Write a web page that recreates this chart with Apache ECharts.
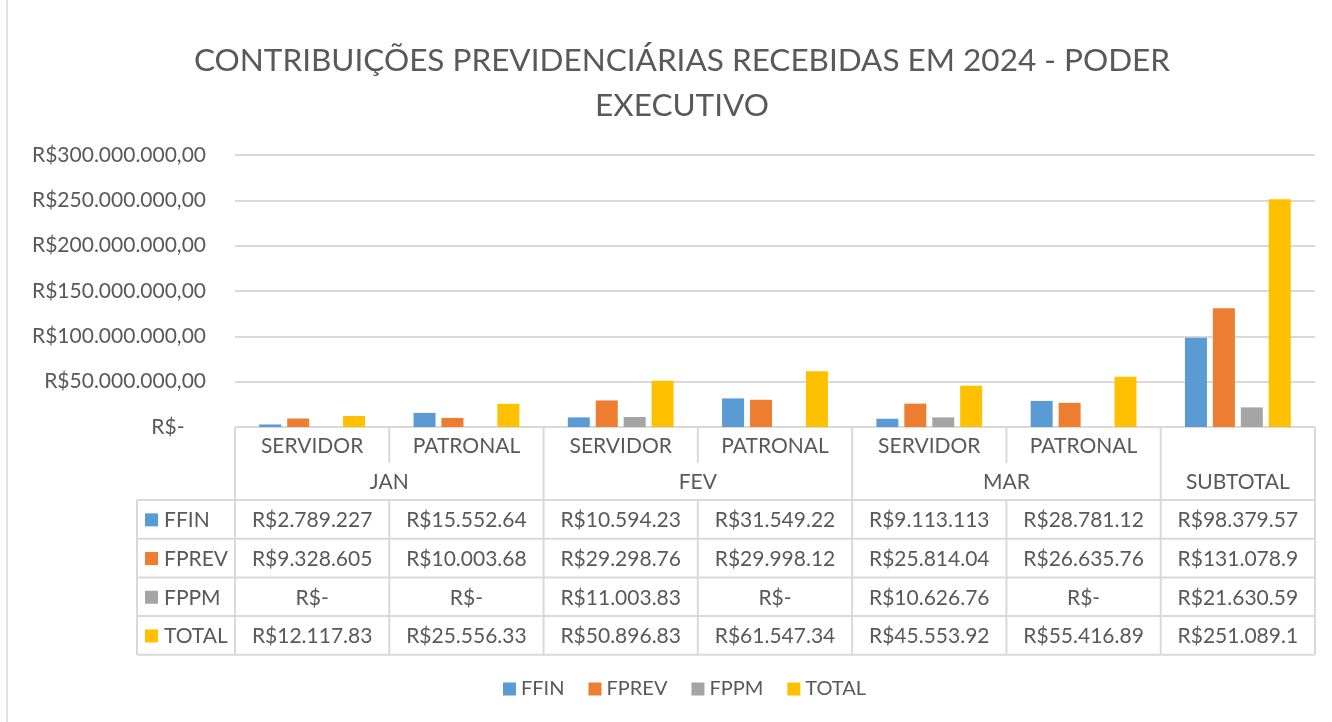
<!DOCTYPE html>
<html>
<head>
<meta charset="utf-8">
<script src="https://cdn.jsdelivr.net/npm/echarts@6/dist/echarts.min.js"></script>
<style>
  html, body { margin: 0; padding: 0; background: #fff; }
  #main { width: 1332px; height: 722px; }
</style>
</head>
<body>
<div id="main"></div>
<script>
  // dados
  var categorias = ['SERVIDOR', 'PATRONAL', 'SERVIDOR', 'PATRONAL', 'SERVIDOR', 'PATRONAL', '']
  var meses = [
    {nome: 'JAN', inicio: 0, fim: 1},
    {nome: 'FEV', inicio: 2, fim: 3},
    {nome: 'MAR', inicio: 4, fim: 5},
    {nome: 'SUBTOTAL', inicio: 6, fim: 6}
  ]
  var ffin = [2789227, 15552640, 10594230, 31549220, 9113113, 28781120, 98379570]
  var fprev = [9328605, 10003680, 29298760, 29998120, 25814040, 26635760, 131078900]
  var fppm = [0, 0, 11003830, 0, 10626760, 0, 21630590]
  var total = [12117830, 25556330, 50896830, 61547340, 45553920, 55416890, 251089100]
  var yTicks = [0, 50000000, 100000000, 150000000, 200000000, 250000000, 300000000]

  var series = [
    {name: 'FFIN', data: ffin, color: '#5b9bd5'},
    {name: 'FPREV', data: fprev, color: '#ed7d31'},
    {name: 'FPPM', data: fppm, color: '#a5a5a5'},
    {name: 'TOTAL', data: total, color: '#ffc000'}
  ]

  var fonte = 'Lato, "Noto Sans", sans-serif'
  var cinza = '#595959'
  var linha = '#d9d9d9'

  function moedaEixo(v) {
    if (v === 0) return 'R$-    '
    return 'R$' + v.toLocaleString('pt-BR') + ',00'
  }

  // a tabela do Excel corta o texto da célula
  function moedaTabela(v) {
    if (v === 0) return 'R$-'
    return ('R$' + v.toLocaleString('pt-BR')).slice(0, 11)
  }

  var chart = echarts.init(document.getElementById('main'))

  chart.setOption({
    animation: false,
    textStyle: {fontFamily: fonte},
    title: {
      text: 'CONTRIBUIÇÕES PREVIDENCIÁRIAS RECEBIDAS EM 2024 - PODER\nEXECUTIVO',
      left: 677,
      textAlign: 'center',
      top: 33,
      textStyle: {fontFamily: fonte, fontSize: 31.5, fontWeight: 'normal', color: cinza, lineHeight: 45}
    },
    legend: {
      bottom: 18,
      left: 498,
      icon: 'rect',
      itemWidth: 13,
      itemHeight: 13,
      itemGap: 24,
      textStyle: {fontFamily: fonte, fontSize: 20, color: cinza}
    },
    grid: {
      left: 235,
      right: 17,
      top: 155,
      bottom: 295
    },
    xAxis: {
      type: 'category',
      data: categorias,
      axisLine: {show: false},
      axisTick: {show: false},
      axisLabel: {show: false}
    },
    yAxis: {
      type: 'value',
      min: 0,
      max: yTicks[yTicks.length - 1],
      interval: yTicks[1] - yTicks[0],
      axisLabel: {
        formatter: moedaEixo,
        fontFamily: fonte,
        fontSize: 21,
        color: cinza,
        margin: 29
      },
      splitLine: {lineStyle: {color: linha, width: 2}}
    },
    series: series.map(function (s) {
      return {
        name: s.name,
        type: 'bar',
        data: s.data,
        barWidth: 22,
        barGap: '27%',
        itemStyle: {color: s.color}
      }
    })
  })

  // tabela de dados abaixo do gráfico
  var band = chart.convertToPixel({xAxisIndex: 0}, 1) - chart.convertToPixel({xAxisIndex: 0}, 0)
  function borda(i) {
    return chart.convertToPixel({xAxisIndex: 0}, i) - band / 2
  }
  var topo = chart.convertToPixel({yAxisIndex: 0}, 0)
  var hCat = 36, hMes = 37, hLinha = 38.7
  var yDados = topo + hCat + hMes
  var xEsq = 137
  var xDir = borda(categorias.length)
  var yFim = yDados + hLinha * series.length

  var g = []
  function seg(x1, y1, x2, y2) {
    g.push({type: 'line', shape: {x1: x1, y1: y1, x2: x2, y2: y2}, style: {stroke: linha, lineWidth: 2}, silent: true})
  }
  function texto(t, x, y, align) {
    g.push({type: 'text', x: x, y: y, style: {text: t, fill: cinza, font: '21px ' + fonte, align: align || 'center', verticalAlign: 'middle'}, silent: true})
  }

  // linhas horizontais
  seg(borda(0), topo, xDir, topo)
  for (var r = 0; r <= series.length; r++) {
    seg(xEsq, yDados + r * hLinha, xDir, yDados + r * hLinha)
  }
  // linhas verticais
  seg(xEsq, yDados, xEsq, yFim)
  for (var i = 0; i <= categorias.length; i++) {
    var inicioMes = meses.some(function (m) { return m.inicio === i }) || i === categorias.length
    if (inicioMes) {
      seg(borda(i), topo, borda(i), yFim)
    } else {
      seg(borda(i), topo, borda(i), topo + hCat)
      seg(borda(i), yDados, borda(i), yFim)
    }
  }
  // cabeçalhos
  categorias.forEach(function (c, i) {
    if (c) texto(c, (borda(i) + borda(i + 1)) / 2, topo + hCat / 2 + 1)
  })
  meses.forEach(function (m) {
    texto(m.nome, (borda(m.inicio) + borda(m.fim + 1)) / 2, topo + hCat + hMes / 2 + 1)
  })
  // linhas de dados
  series.forEach(function (s, r) {
    var yc = yDados + r * hLinha + hLinha / 2 + 1
    g.push({type: 'rect', shape: {x: 145, y: yc - 7, width: 13, height: 13}, style: {fill: s.color}, silent: true})
    texto(s.name, 164, yc, 'left')
    s.data.forEach(function (v, i) {
      texto(moedaTabela(v), (borda(i) + borda(i + 1)) / 2, yc)
    })
  })
  // borda do gráfico
  g.push({type: 'rect', shape: {x: 7, y: -5, width: 1340, height: 740}, style: {fill: 'none', stroke: linha, lineWidth: 1.5}, silent: true})

  chart.setOption({graphic: g})
</script>
</body>
</html>
